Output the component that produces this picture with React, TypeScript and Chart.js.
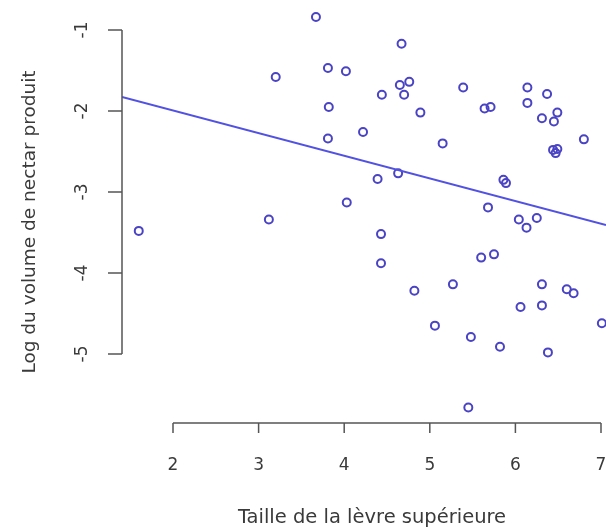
import React, { useEffect, useRef } from "react";
import { Chart, registerables } from "chart.js";

Chart.register(...registerables);

// Taille de la lèvre supérieure (x)
const lipSize = [
  3.67, 3.20, 3.81, 4.02, 3.82, 3.81, 4.22, 4.67, 4.44, 4.65, 4.76, 4.70, 4.89,
  5.39, 5.15, 5.64, 5.71, 6.14, 6.14, 6.37, 6.31, 6.49, 6.45, 6.44, 6.49, 6.47,
  6.80, 4.39, 4.63, 5.86, 5.89, 4.03, 3.12, 1.60, 5.68, 6.04, 6.13, 6.25, 4.43,
  4.43, 5.60, 5.75, 4.82, 5.27, 6.31, 6.60, 6.68, 6.06, 6.31, 7.01, 5.06, 5.48,
  5.82, 6.38, 5.45,
];
// Log du volume de nectar produit (y)
const logNectar = [
  -0.84, -1.58, -1.47, -1.51, -1.95, -2.34, -2.26, -1.17, -1.80, -1.68, -1.64,
  -1.80, -2.02, -1.71, -2.40, -1.97, -1.95, -1.71, -1.90, -1.79, -2.09, -2.02,
  -2.13, -2.48, -2.47, -2.52, -2.35, -2.84, -2.77, -2.85, -2.89, -3.13, -3.34,
  -3.48, -3.19, -3.34, -3.44, -3.32, -3.52, -3.88, -3.81, -3.77, -4.22, -4.14,
  -4.14, -4.20, -4.25, -4.42, -4.40, -4.62, -4.65, -4.79, -4.91, -4.98, -5.66,
];

const xTicks = [2, 3, 4, 5, 6, 7];
const yTicks = [-1, -2, -3, -4, -5];

// fitted regression line (abline)
const fitIntercept = -1.435;
const fitSlope = -0.2795;

const xTitle = "Taille de la lèvre supérieure";
const yTitle = "Log du volume de nectar produit";

const X_MIN = 1.4042;
const X_MAX = 7.0584;
const Y_MIN = -7.1852;
const Y_MAX = -0.6296;

const FONT = '"DejaVu Sans", "Liberation Sans", Arial, sans-serif';

const rAxesPlugin = {
  id: "rAxes",
  afterDraw(chart: any) {
    const { ctx, scales, chartArea } = chart;
    const xs = scales.x;
    const ys = scales.y;
    ctx.save();
    ctx.strokeStyle = "#555555";
    ctx.lineWidth = 1.5;
    ctx.fillStyle = "#3a3a3a";

    // x axis (detached, R style)
    const axisY = 423;
    const x0 = xs.getPixelForValue(xTicks[0]);
    const x1 = xs.getPixelForValue(xTicks[xTicks.length - 1]);
    ctx.beginPath();
    ctx.moveTo(x0, axisY);
    ctx.lineTo(x1, axisY);
    for (const t of xTicks) {
      const px = xs.getPixelForValue(t);
      ctx.moveTo(px, axisY);
      ctx.lineTo(px, axisY + 10);
    }
    ctx.stroke();
    ctx.font = `17px ${FONT}`;
    ctx.textAlign = "center";
    ctx.textBaseline = "middle";
    for (const t of xTicks) {
      ctx.fillText(String(t), xs.getPixelForValue(t), 466);
    }

    // y axis
    const axisX = chartArea.left;
    const yTop = ys.getPixelForValue(yTicks[0]);
    const yBot = ys.getPixelForValue(yTicks[yTicks.length - 1]);
    ctx.beginPath();
    ctx.moveTo(axisX, yTop);
    ctx.lineTo(axisX, yBot);
    for (const t of yTicks) {
      const py = ys.getPixelForValue(t);
      ctx.moveTo(axisX, py);
      ctx.lineTo(axisX - 14, py);
    }
    ctx.stroke();
    for (const t of yTicks) {
      const py = ys.getPixelForValue(t);
      ctx.save();
      ctx.translate(83, py);
      ctx.rotate(-Math.PI / 2);
      ctx.fillText(String(t), 0, 0);
      ctx.restore();
    }

    // titles
    ctx.font = `19.5px ${FONT}`;
    ctx.fillText(xTitle, 372, 518);
    ctx.save();
    ctx.translate(30, 222);
    ctx.rotate(-Math.PI / 2);
    ctx.font = `18.5px ${FONT}`;
    ctx.fillText(yTitle, 0, 0);
    ctx.restore();

    ctx.restore();
  },
};

export default function App() {
  const canvasRef = useRef<HTMLCanvasElement | null>(null);

  useEffect(() => {
    const canvas = canvasRef.current;
    if (!canvas) return;
    const points = lipSize.map((v, i) => ({ x: v, y: logNectar[i] }));
    const fitLine = [X_MIN, X_MAX].map((v) => ({ x: v, y: fitIntercept + fitSlope * v }));
    const chart = new Chart(canvas, {
      type: "scatter",
      data: {
        datasets: [
          {
            label: "ajustement",
            data: fitLine,
            showLine: true,
            borderColor: "#5252e2",
            borderWidth: 2,
            pointRadius: 0,
            fill: false,
          },
          {
            label: "observations",
            data: points,
            pointStyle: "circle",
            pointRadius: 4,
            pointBorderWidth: 2,
            borderColor: "#4a44c4",
            backgroundColor: "rgba(0,0,0,0)",
            pointBackgroundColor: "rgba(0,0,0,0)",
            pointBorderColor: "#4a44c4",
            pointHoverRadius: 4,
          },
        ],
      },
      options: {
        responsive: false,
        animation: false,
        devicePixelRatio: 1,
        layout: { autoPadding: false, padding: { left: 122, right: 0, top: 0, bottom: 0 } },
        plugins: {
          legend: { display: false },
          tooltip: { enabled: false },
          title: { display: false },
        },
        events: [],
        scales: {
          x: { type: "linear", min: X_MIN, max: X_MAX, display: false },
          y: { type: "linear", min: Y_MIN, max: Y_MAX, display: false },
        },
      },
      plugins: [rAxesPlugin],
    });
    return () => chart.destroy();
  }, []);

  return (
    <div style={{ position: "absolute", left: 0, top: 0, width: 606, height: 531, background: "#ffffff" }}>
      <canvas ref={canvasRef} width={606} height={531} style={{ display: "block" }} />
    </div>
  );
}
